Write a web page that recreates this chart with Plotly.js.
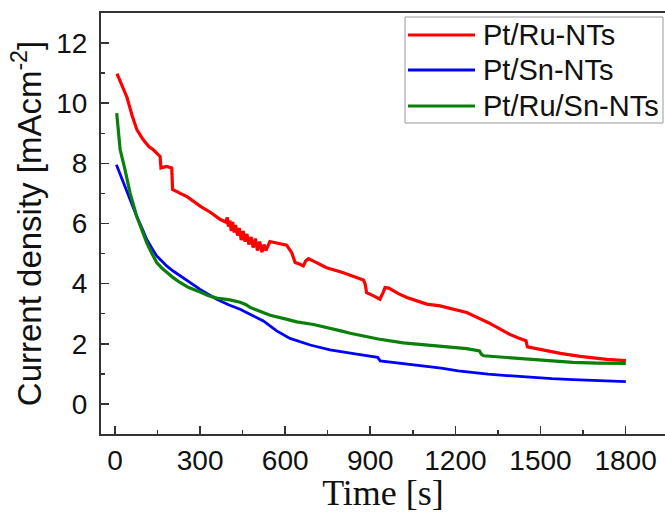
<!DOCTYPE html>
<html>
<head>
<meta charset="utf-8">
<script src="https://cdn.plot.ly/plotly-3.0.1.min.js"></script>
<style>html,body{margin:0;padding:0;background:#fff;}#chart{width:665px;height:513px;}</style>
</head>
<body>
<div id="chart"></div>
<script>
const seriesNames = ["Pt/Ru-NTs", "Pt/Sn-NTs", "Pt/Ru/Sn-NTs"];
const seriesColors = ["#ff0000", "#0000ff", "#0a800a"];

const ruTime = [7,20,42,60,77,99,120,134,150,159,162,170,182,200,203,230,253,300,340,370,390,396,400,405,410,415,420,425,432,438,445,452,458,465,472,480,487,495,502,510,518,525,532,546,565,582,605,623,635,650,664,672,682,700,746,800,852,876,882,887,910,934,945,952,965,981,1001,1029,1060,1099,1146,1200,1240,1280,1315,1358,1390,1420,1440,1449,1454,1480,1522,1570,1640,1689,1734,1801];
const ruCurrent = [10.98,10.7,10.2,9.6,9.12,8.79,8.55,8.46,8.32,8.23,7.85,7.88,7.9,7.85,7.13,7.0,6.9,6.58,6.35,6.14,6.05,6.2,5.9,6.1,5.75,6.05,5.7,5.95,5.6,5.85,5.45,5.75,5.4,5.65,5.3,5.55,5.2,5.5,5.1,5.4,5.05,5.3,5.1,5.4,5.36,5.33,5.28,5.03,4.70,4.65,4.59,4.75,4.83,4.75,4.53,4.38,4.22,4.12,3.98,3.70,3.60,3.48,3.7,3.87,3.85,3.76,3.66,3.54,3.45,3.32,3.26,3.12,3.04,2.86,2.71,2.49,2.32,2.2,2.12,2.10,1.90,1.85,1.77,1.68,1.58,1.53,1.48,1.44];

const snTime = [5,18,35,53,76,95,112,130,147,165,182,205,229,260,300,330,359,400,441,476,523,570,617,688,758,852,926,935,980,1030,1091,1150,1210,1260,1315,1400,1464,1540,1614,1700,1801];
const snCurrent = [7.95,7.63,7.2,6.8,6.25,5.85,5.47,5.18,4.92,4.75,4.59,4.42,4.26,4.05,3.81,3.64,3.48,3.30,3.15,2.98,2.76,2.43,2.18,1.96,1.80,1.66,1.55,1.43,1.38,1.33,1.27,1.19,1.10,1.04,0.99,0.93,0.88,0.84,0.81,0.77,0.74];

const ruSnTime = [6,18,35,53,76,95,112,130,147,165,182,205,229,260,300,330,359,405,441,462,476,511,547,600,641,700,735,800,829,866,928,1016,1090,1165,1240,1285,1292,1300,1380,1464,1540,1614,1700,1801];
const ruSnCurrent = [9.67,8.46,7.8,7.02,6.25,5.75,5.36,5.0,4.70,4.52,4.37,4.2,4.04,3.87,3.72,3.6,3.52,3.46,3.38,3.30,3.21,3.08,2.95,2.83,2.73,2.64,2.57,2.42,2.35,2.27,2.16,2.03,1.96,1.9,1.84,1.76,1.65,1.60,1.55,1.49,1.43,1.38,1.36,1.35];

const xTickVals = [0,300,600,900,1200,1500,1800];
const yTickVals = [0,2,4,6,8,10,12];

const xs = [ruTime, snTime, ruSnTime];
const ys = [ruCurrent, snCurrent, ruSnCurrent];
const widths = [3.2, 2.8, 3.2];

const traces = seriesNames.map((n, i) => ({
  x: xs[i], y: ys[i], name: n, type: 'scatter', mode: 'lines',
  line: {color: seriesColors[i], width: widths[i]},
  showlegend: false
}));

// plot-area pixel geometry
const L = 101, T = 13, R = 0, B = 79, W = 665, H = 513;
const pw = W - L - R, ph = H - T - B;
const px = v => (v - L) / pw;
const py = v => (H - B - v) / ph;

const shapes = [{
  type: 'rect', xref: 'paper', yref: 'paper',
  x0: px(405), x1: px(663), y0: py(123), y1: py(17),
  line: {color: '#9a9a9a', width: 1}, fillcolor: 'rgba(0,0,0,0)', layer: 'above'
}];
const annotations = [];
const rowY = [35, 70, 106];
seriesNames.forEach((n, i) => {
  shapes.push({type: 'line', xref: 'paper', yref: 'paper',
    x0: px(408), x1: px(475), y0: py(rowY[i]), y1: py(rowY[i]),
    line: {color: seriesColors[i], width: 3}});
  annotations.push({xref: 'paper', yref: 'paper', x: px(481), y: py(rowY[i]),
    xanchor: 'left', yanchor: 'middle', text: n, showarrow: false,
    font: {family: 'Liberation Sans, Arial, sans-serif', size: 29, color: '#111'}});
});

const axisCommon = {
  showline: true, linecolor: '#333', linewidth: 2,
  ticks: 'inside', ticklen: 8, tickwidth: 1.6, tickcolor: '#333',
  showgrid: false, zeroline: false,
  tickfont: {family: 'Liberation Sans, Arial, sans-serif', size: 28, color: '#111'}
};

const layout = {
  width: W, height: H,
  margin: {l: L, r: R, t: T, b: B, pad: 0},
  paper_bgcolor: '#fff', plot_bgcolor: '#fff',
  showlegend: false,
  xaxis: Object.assign({}, axisCommon, {
    range: [-49.4, 1939], tickvals: xTickVals, ticktext: xTickVals.map(String),
    mirror: true, ticklabelstandoff: 0,
    minor: {dtick: 150, tick0: 0, ticks: 'inside', ticklen: 4, tickwidth: 1.4, tickcolor: '#333'},
    title: {text: 'Time [s]', standoff: 4,
      font: {family: 'Liberation Serif, Times New Roman, serif', size: 36, color: '#111'}}
  }),
  yaxis: Object.assign({}, axisCommon, {
    range: [-1, 13], tickvals: yTickVals, ticktext: yTickVals.map(String),
    mirror: false, ticklabelstandoff: 6,
    minor: {dtick: 1, tick0: 0, ticks: 'inside', ticklen: 4, tickwidth: 1.4, tickcolor: '#333'},
    title: {text: 'Current density [mAcm<sup>-2</sup>]', standoff: 5,
      font: {family: 'Liberation Sans, Arial, sans-serif', size: 33, color: '#111'}}
  }),
  shapes: shapes,
  annotations: annotations
};

Plotly.newPlot('chart', traces, layout, {staticPlot: true, displayModeBar: false});
</script>
</body>
</html>
